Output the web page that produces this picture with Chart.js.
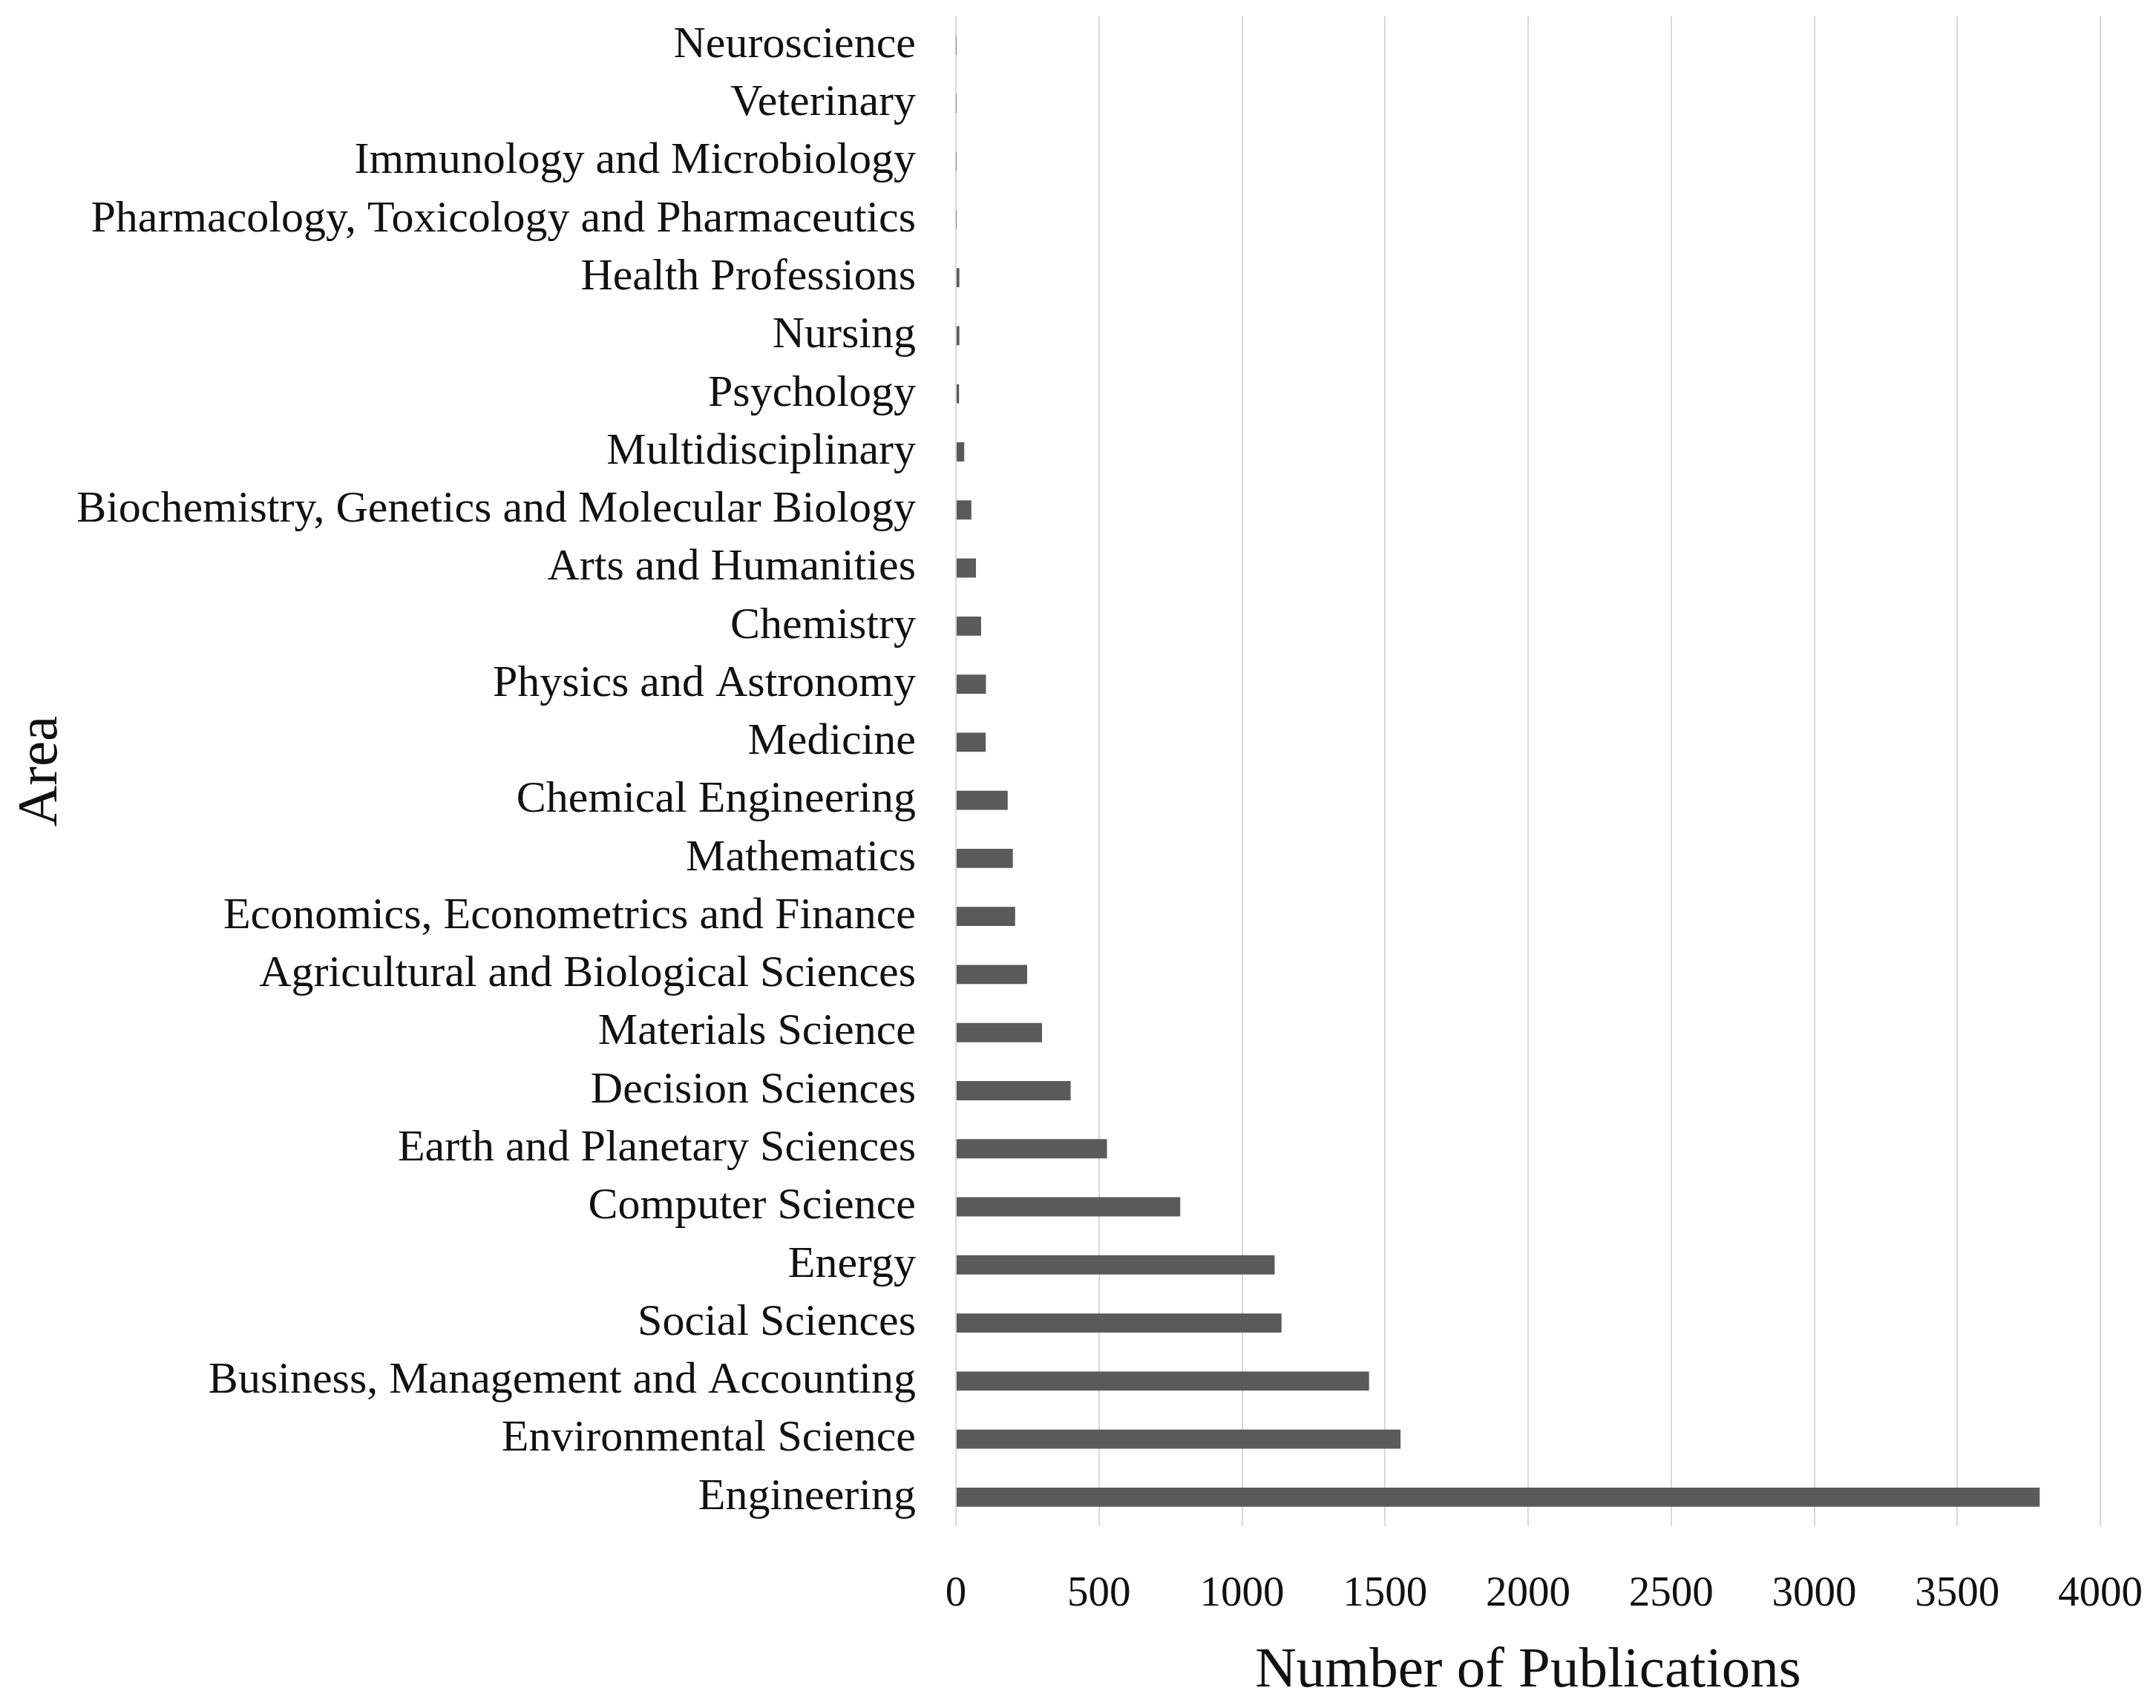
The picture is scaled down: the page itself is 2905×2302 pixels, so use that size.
<!DOCTYPE html>
<html>
<head>
<meta charset="utf-8">
<script src="https://cdn.jsdelivr.net/npm/chart.js@4.4.1/dist/chart.umd.min.js"></script>
<style>
  html, body { margin: 0; padding: 0; background: #ffffff; }
  #wrap { width: 2905px; height: 2302px; }
</style>
</head>
<body>
<div id="wrap"><canvas id="c" width="2905" height="2302"></canvas></div>
<script>
const categories = [
  "Neuroscience",
  "Veterinary",
  "Immunology and Microbiology",
  "Pharmacology, Toxicology and Pharmaceutics",
  "Health Professions",
  "Nursing",
  "Psychology",
  "Multidisciplinary",
  "Biochemistry, Genetics and Molecular Biology",
  "Arts and Humanities",
  "Chemistry",
  "Physics and Astronomy",
  "Medicine",
  "Chemical Engineering",
  "Mathematics",
  "Economics, Econometrics and Finance",
  "Agricultural and Biological Sciences",
  "Materials Science",
  "Decision Sciences",
  "Earth and Planetary Sciences",
  "Computer Science",
  "Energy",
  "Social Sciences",
  "Business, Management and Accounting",
  "Environmental Science",
  "Engineering"
];
const publications = [
  1, 1, 1, 1, 12, 12, 11, 29, 54, 70, 88, 105, 104, 181, 199, 207, 249, 301, 401, 528, 784, 1114, 1138, 1444, 1554, 3788
];
const xTickMin = 0;
const xTickMax = 4000;
const xTickStep = 500;
const xAxisTitle = "Number of Publications";
const yAxisTitle = "Area";

const FONT = "'Liberation Serif', 'Times New Roman', serif";

new Chart(document.getElementById('c'), {
  type: 'bar',
  data: {
    labels: categories,
    datasets: [{
      label: xAxisTitle,
      data: publications,
      backgroundColor: '#5a5a5a',
      borderWidth: 0,
      categoryPercentage: 1.0,
      barPercentage: 0.33
    }]
  },
  options: {
    indexAxis: 'y',
    responsive: false,
    devicePixelRatio: 1,
    animation: false,
    layout: { padding: { top: 22, right: 75, left: 0, bottom: 0 } },
    plugins: {
      legend: { display: false },
      tooltip: { enabled: false },
      title: { display: false }
    },
    scales: {
      x: {
        type: 'linear',
        min: xTickMin,
        max: xTickMax,
        ticks: {
          stepSize: xTickStep,
          color: '#111111',
          font: { family: FONT, size: 57 },
          padding: 58,
          maxRotation: 0,
          callback: (v) => String(v)
        },
        grid: { color: '#d9d9d9', lineWidth: 2, drawTicks: false },
        border: { display: false },
        title: {
          display: true,
          text: xAxisTitle,
          color: '#111111',
          font: { family: FONT, size: 77 },
          padding: { top: 0, bottom: 3 }
        },
        afterFit(scale) {
          scale.height = 245;
          scale.paddingLeft = 0;
          scale.paddingRight = 0;
        }
      },
      y: {
        type: 'category',
        ticks: {
          color: '#111111',
          font: { family: FONT, size: 60 },
          padding: 54,
          autoSkip: false
        },
        grid: { display: false, drawTicks: false },
        border: { display: false },
        title: {
          display: true,
          text: yAxisTitle,
          color: '#111111',
          font: { family: FONT, size: 77 },
          padding: { top: 10, bottom: 0 }
        },
        afterFit(scale) {
          scale.width = 1288;
          scale.paddingTop = 0;
          scale.paddingBottom = 0;
        }
      }
    }
  }
});
</script>
</body>
</html>
